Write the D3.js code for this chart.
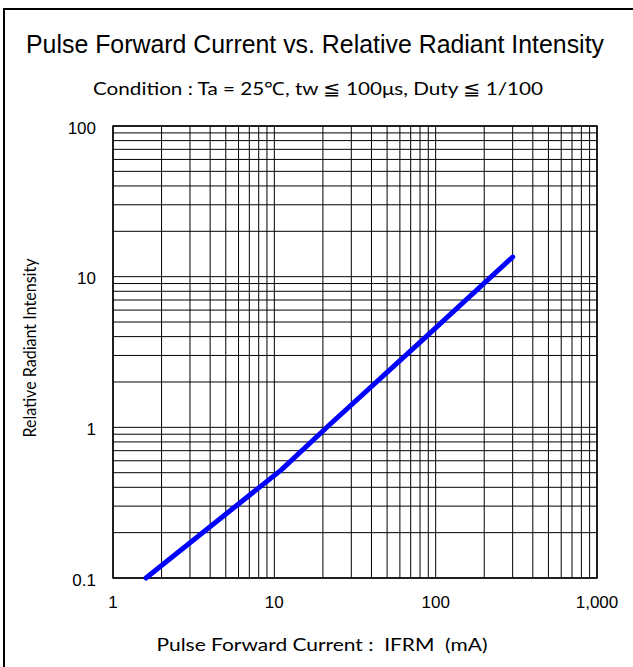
<!DOCTYPE html>
<html>
<head>
<meta charset="utf-8">
<script src="https://cdn.jsdelivr.net/npm/d3@7"></script>
<style>
  body { margin: 0; background: #fff; }
  svg { display: block; }
</style>
</head>
<body>
<div id="chart"></div>
<script>
var width = 633;
var height = 667;

// curve (mA, relative intensity)
var currentMA = [1.6, 6, 11, 22, 85, 300];
var intensity = [0.1, 0.31, 0.52, 1.04, 3.9, 13.5];

var xTickValues = [1, 10, 100, 1000];
var xTickLabels = ["1", "10", "100", "1,000"];
var yTickValues = [0.1, 1, 10, 100];
var yTickLabels = ["0.1", "1", "10", "100"];

var titleText = "Pulse Forward Current vs. Relative Radiant Intensity";
var subText = "Condition : Ta = 25\u2103, tw \u2266 100\u03bcs, Duty \u2266 1/100";
var xTitle = "Pulse Forward Current :  IFRM  (mA)";
var yTitle = "Relative Radiant Intensity";

var plot = {left: 113, right: 597, top: 126, bottom: 578};

var svg = d3.select("#chart")
            .append("svg")
            .attr("width", width)
            .attr("height", height);

// outer frame (runs off the right and bottom edges)
svg.append("rect")
    .attr("x", 4)
    .attr("y", 9)
    .attr("width", 700)
    .attr("height", 700)
    .attr("fill", "none")
    .attr("stroke", "#000")
    .attr("stroke-width", 2);

var x = d3.scaleLog().domain([1, 1000]).range([plot.left, plot.right]);
var y = d3.scaleLog().domain([0.1, 100]).range([plot.bottom, plot.top]);

// every 1..9 step of each decade
var xGrid = [];
for (var d = 1; d < 1000; d *= 10) {
    for (var k = 1; k <= 9; k++) xGrid.push(d * k);
}
xGrid.push(1000);
var yGrid = [];
for (var d2 = 0.1; d2 < 99; d2 *= 10) {
    for (var k2 = 1; k2 <= 9; k2++) yGrid.push(+(d2 * k2).toPrecision(3));
}
yGrid.push(100);

var grid = svg.append("g");
grid.selectAll(".vline")
    .data(xGrid)
    .enter()
    .append("line")
    .attr("x1", d => x(d))
    .attr("x2", d => x(d))
    .attr("y1", plot.top)
    .attr("y2", plot.bottom)
    .attr("stroke", "#000")
    .attr("stroke-width", 1);

grid.selectAll(".hline")
    .data(yGrid)
    .enter()
    .append("line")
    .attr("x1", plot.left)
    .attr("x2", plot.right)
    .attr("y1", d => y(d))
    .attr("y2", d => y(d))
    .attr("stroke", "#000")
    .attr("stroke-width", 1);

svg.append("rect")
    .attr("x", plot.left)
    .attr("y", plot.top)
    .attr("width", plot.right - plot.left)
    .attr("height", plot.bottom - plot.top)
    .attr("fill", "none")
    .attr("stroke", "#000")
    .attr("stroke-width", 1.5);

// tick labels
svg.selectAll(".xt")
    .data(xTickValues)
    .enter()
    .append("text")
    .attr("x", d => x(d))
    .attr("y", 608)
    .attr("text-anchor", "middle")
    .attr("font-family", "Liberation Sans, Arial, sans-serif")
    .attr("font-size", 17)
    .text((d, i) => xTickLabels[i]);

svg.selectAll(".yt")
    .data(yTickValues)
    .enter()
    .append("text")
    .attr("x", 96)
    .attr("y", d => y(d) + 7.5)
    .attr("text-anchor", "end")
    .attr("font-family", "Liberation Sans, Arial, sans-serif")
    .attr("font-size", 17)
    .text((d, i) => yTickLabels[i]);

// the curve
var lineGenerator = d3.line()
                      .x(d => x(d[0]))
                      .y(d => y(d[1]));

svg.append("path")
    .attr("d", lineGenerator(currentMA.map((c, i) => [c, intensity[i]])))
    .attr("fill", "none")
    .attr("stroke", "#0000ff")
    .attr("stroke-width", 5)
    .attr("stroke-linecap", "round")
    .attr("stroke-linejoin", "round");

// titles
svg.append("text")
    .attr("x", 315)
    .attr("y", 53)
    .attr("text-anchor", "middle")
    .attr("font-family", "Liberation Sans Narrow, Arial Narrow, sans-serif")
    .attr("font-size", 25)
    .attr("textLength", 578)
    .attr("lengthAdjust", "spacingAndGlyphs")
    .text(titleText);

svg.append("text")
    .attr("x", 318)
    .attr("y", 95)
    .attr("text-anchor", "middle")
    .attr("font-family", "Lato, sans-serif")
    .attr("font-size", 18)
    .attr("textLength", 450)
    .attr("lengthAdjust", "spacingAndGlyphs")
    .text(subText);

svg.append("text")
    .attr("x", 322)
    .attr("y", 651)
    .attr("text-anchor", "middle")
    .attr("font-family", "Lato, sans-serif")
    .attr("font-size", 18)
    .attr("textLength", 331)
    .attr("lengthAdjust", "spacingAndGlyphs")
    .attr("xml:space", "preserve")
    .text(xTitle);

svg.append("text")
    .attr("transform", "translate(36," + 348 + ") rotate(-90)")
    .attr("text-anchor", "middle")
    .attr("font-family", "Lato, sans-serif")
    .attr("font-size", 17)
    .attr("textLength", 179)
    .attr("lengthAdjust", "spacingAndGlyphs")
    .text(yTitle);
</script>
</body>
</html>
